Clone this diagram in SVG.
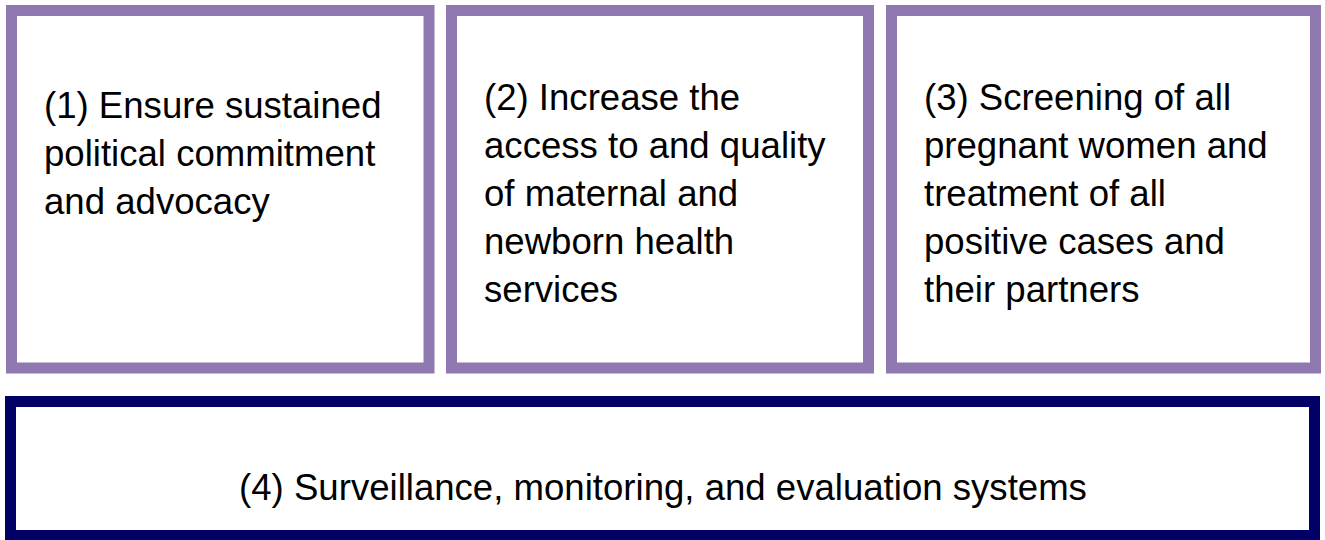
<svg xmlns="http://www.w3.org/2000/svg" width="1325" height="540" viewBox="0 0 1325 540">
<style>
.box{fill:#ffffff;stroke:#8F79B0;stroke-width:11}
.box4{fill:#ffffff;stroke:#000066;stroke-width:11}
.t{font-family:"Liberation Sans",Arial,sans-serif;font-size:36.6px;fill:#000000}
</style>
<rect width="1325" height="540" fill="#ffffff"/>
<g id="node1">
<rect class="box" x="11.5" y="10.5" width="417.5" height="357.5"/>
<text class="t"><tspan x="44" y="118">(1) Ensure sustained</tspan><tspan x="44" y="166">political commitment</tspan><tspan x="44" y="214">and advocacy</tspan></text>
</g>
<g id="node2">
<rect class="box" x="451.5" y="10.5" width="417" height="357.5"/>
<text class="t"><tspan x="484" y="110">(2) Increase the</tspan><tspan x="484" y="158">access to and quality</tspan><tspan x="484" y="206">of maternal and</tspan><tspan x="484" y="254">newborn health</tspan><tspan x="484" y="302">services</tspan></text>
</g>
<g id="node3">
<rect class="box" x="891.5" y="10.5" width="424" height="357.5"/>
<text class="t"><tspan x="924" y="110">(3) Screening of all</tspan><tspan x="924" y="158">pregnant women and</tspan><tspan x="924" y="206">treatment of all</tspan><tspan x="924" y="254">positive cases and</tspan><tspan x="924" y="302">their partners</tspan></text>
</g>
<g id="node4">
<rect class="box4" x="10.5" y="401.5" width="1304" height="134"/>
<text class="t" x="663" y="500" text-anchor="middle">(4) Surveillance, monitoring, and evaluation systems</text>
</g>
<g id="connectors"></g>
</svg>
